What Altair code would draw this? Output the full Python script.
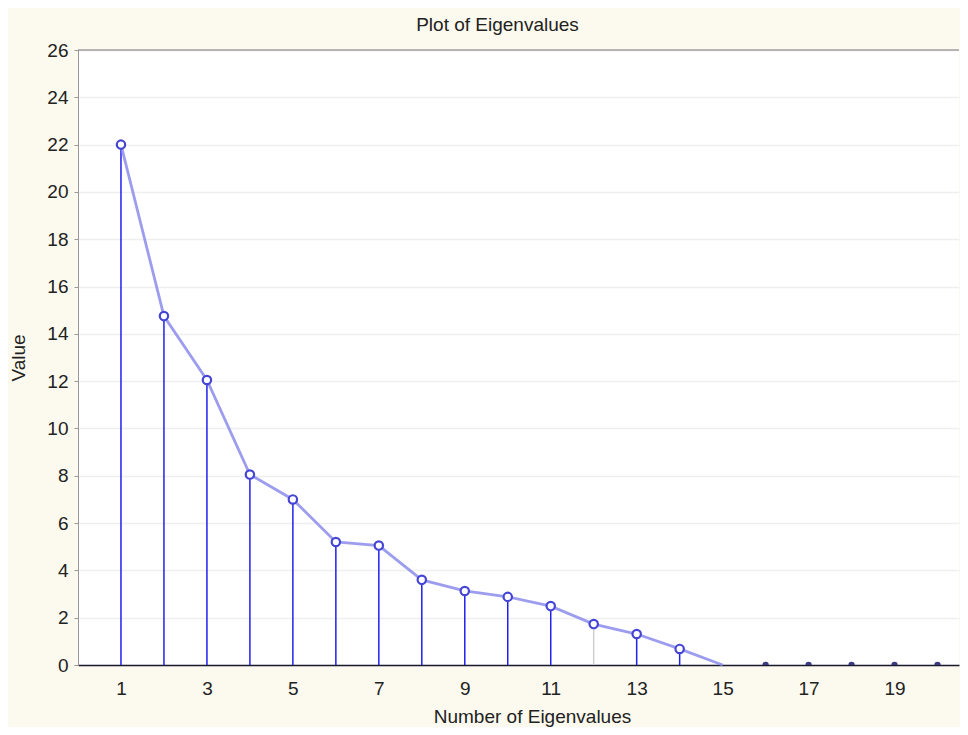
import altair as alt
import pandas as pd

numbers = list(range(1, 21))
values = [22.0, 14.75, 12.05, 8.05, 7.0, 5.2, 5.05, 3.6, 3.13, 2.88, 2.49, 1.73, 1.31, 0.68,
          0.0, 0.0, 0.0, 0.0, 0.0, 0.0]
x_labels = [1, 3, 5, 7, 9, 11, 13, 15, 17, 19]
y_ticks = list(range(0, 27, 2))

df = pd.DataFrame({"n": numbers, "v": values})
df_line = df[df["n"] <= 15]
df_pts = df[df["n"] <= 14]
df_zero = df[df["n"] >= 16]

FONT = "Liberation Sans"
W, H = 881, 615

xs = alt.Scale(domain=[0, 20.5], nice=False, zero=False)
ys = alt.Scale(domain=[0, 26], nice=False)

xax = alt.Axis(values=x_labels, title="Number of Eigenvalues", grid=False, ticks=False,
               domainColor="#1a1a2e", domainWidth=1.5, labelFontSize=19, labelPadding=14,
               labelColor="#222", titleFontSize=19, titleFontWeight="normal", titleColor="#222",
               titlePadding=9, titleX=454, labelFont=FONT, titleFont=FONT)
yax = alt.Axis(values=y_ticks, title="Value", grid=True, gridColor="#efefef", gridWidth=1.5,
               tickSize=4, tickColor="#999", domainColor="#999", labelFontSize=19,
               labelPadding=6, labelColor="#222", titleFontSize=19, titleFontWeight="normal",
               titleColor="#222", titlePadding=18, labelFont=FONT, titleFont=FONT)

stems = alt.Chart(df_pts).mark_rule(strokeWidth=1.5).encode(
    x=alt.X("n:Q", scale=xs, axis=xax),
    y=alt.Y("v:Q", scale=ys, axis=yax),
    y2=alt.datum(0),
    color=alt.condition(alt.datum.n == 12, alt.value("#cfcfcf"), alt.value("#2020f0")),
)

line = alt.Chart(df_line).mark_line(color="#8c8cec", strokeWidth=2.8, opacity=0.85).encode(
    x=alt.X("n:Q", scale=xs), y=alt.Y("v:Q", scale=ys)
)

pts = alt.Chart(df_pts).mark_point(shape="circle", size=70, strokeWidth=2.2, color="#4545d5",
                                   fill="white", filled=False, opacity=1).encode(
    x=alt.X("n:Q", scale=xs), y=alt.Y("v:Q", scale=ys)
)

zero = alt.Chart(df_zero).mark_point(shape="circle", size=40, filled=True, color="#3a3a80",
                                     opacity=1, clip=True).encode(
    x=alt.X("n:Q", scale=xs), y=alt.Y("v:Q", scale=ys)
)

top = alt.Chart(df.head(1)).mark_rule(color="#777", strokeWidth=1.2).encode(
    x=alt.value(0), x2=alt.value(W), y=alt.value(0)
)

chart = alt.layer(stems, line, pts, zero, top).properties(
    width=W, height=H,
    title=alt.TitleParams("Plot of Eigenvalues", fontSize=19, fontWeight="normal", font=FONT,
                          color="#222", offset=6, dx=-21),
    autosize=alt.AutoSizeParams(type="none"),
    padding={"left": 70, "top": 42, "right": 1, "bottom": 62},
    background="#fcfaee",
).configure_view(stroke=None, fill="white")

chart.save("out.html", embed_options={"renderer": "svg", "actions": False})
